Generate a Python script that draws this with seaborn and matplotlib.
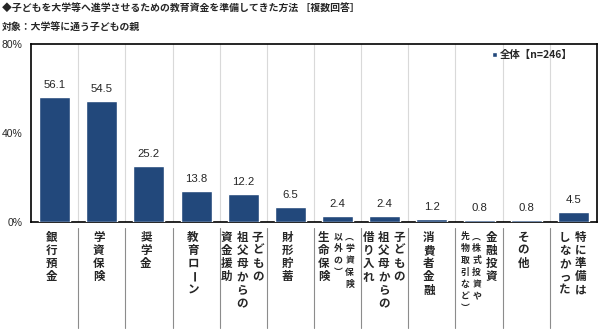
import matplotlib
matplotlib.use("Agg")
import matplotlib.pyplot as plt
import matplotlib.transforms as mtransforms
import seaborn as sns
import pandas as pd

# ---- data ----
categories = [
    "銀行預金", "学資保険", "奨学金", "教育ローン",
    "子どもの|祖父母からの|資金援助", "財形貯蓄",
    "（学資保険|以外の）|生命保険", "子どもの|祖父母からの|借り入れ",
    "消費者金融", "金融投資|（株式投資や|先物取引など）",
    "その他", "特に準備は|しなかった",
]
values = [56.1, 54.5, 25.2, 13.8, 12.2, 6.5, 2.4, 2.4, 1.2, 0.8, 0.8, 4.5]
series_name = "全体【n=246】"
y_ticks = [0, 40, 80]
y_tick_labels = ["0%", "40%", "80%"]
title = "◆子どもを大学等へ進学させるための教育資金を準備してきた方法 ［複数回答］"
subtitle = "対象：大学等に通う子どもの親"

bar_color = "#22487B"

sns.set_theme(style="white")
plt.rcParams['font.family'] = ['Noto Sans CJK JP', 'DejaVu Sans']

W, H = 600, 330
fig = plt.figure(figsize=(W / 100, H / 100), dpi=100)
L, R, T, B = 31, 597, 44, 221.5
ax = fig.add_axes([L / W, 1 - B / H, (R - L) / W, (B - T) / H])

df = pd.DataFrame({
    "cat": [c.replace("|", "") for c in categories],
    "val": values,
    "series": series_name,
})
sns.barplot(data=df, x="cat", y="val", hue="series", palette=[bar_color],
            width=0.66, ax=ax, legend=True, saturation=1, zorder=3)

ax.set_xlim(-0.5, len(categories) - 0.5)
ax.set_ylim(0, 80)
ax.set_yticks(y_ticks)
ax.set_yticklabels(y_tick_labels, fontsize=7.5, family=['Liberation Sans', 'DejaVu Sans'])
ax.set_xticks(range(len(categories)))
ax.set_xticklabels([""] * len(categories))
ax.tick_params(axis='both', length=0, pad=6)
ax.set_xlabel("")
ax.set_ylabel("")
for s in ax.spines.values():
    s.set_visible(True)
    s.set_color("black")
    s.set_linewidth(1.2)

# vertical grid lines at category boundaries
for k in range(1, len(categories)):
    ax.axvline(k - 0.5, color="#d9d9d9", lw=0.8, zorder=1)

# value labels
ax.bar_label(ax.containers[0], fmt="%.1f", padding=5, fontsize=8.2,
             family=['Liberation Sans', 'DejaVu Sans'])

# legend
leg = ax.legend(loc="upper left", bbox_to_anchor=(0.815, 0.965), frameon=False,
                fontsize=7.5, handlelength=0.45, handleheight=0.45,
                handletextpad=0.25, borderpad=0, borderaxespad=0)
for t in leg.get_texts():
    t.set_fontweight("bold")

# separators below axis
blend = mtransforms.blended_transform_factory(ax.transData, ax.transAxes)
ax_h = B - T
for k in range(1, len(categories)):
    ax.plot([k - 0.5, k - 0.5], [-(228 - B) / ax_h, -(328 - B) / ax_h],
            transform=blend, color="#8c8c8c", lw=0.8, clip_on=False)

# vertical category labels (vertical writing forms for brackets)
reg_size, small_size = 8.3, 6.4
reg_step, small_step = 13.3, 12.0
vert_forms = {"（": "︵", "）": "︶"}
rot_chars = {"ー": -90}


def draw_vertical(xpos, label):
    cols = label.split("|")
    flags = []
    inside = False
    for c in cols:
        if "（" in c:
            inside = True
        flags.append(inside)
        if "）" in c:
            inside = False
    offs = [0.0]
    for i in range(1, len(cols)):
        a, b = flags[i - 1], flags[i]
        if not a and not b:
            gap = 15.5
        elif a and b:
            gap = 11.7
        else:
            gap = 14.5
        offs.append(offs[-1] - gap)
    mid = (max(offs) + min(offs)) / 2
    shift = -3 if len(cols) == 1 else -1
    offs = [o - mid + shift for o in offs]
    for c, small, dx in zip(cols, flags, offs):
        size = small_size if small else reg_size
        step = small_step if small else reg_step
        y0 = 15.0 if small else 15.5
        for i, ch in enumerate(c):
            dy = y0 + i * step
            tr = blend + mtransforms.ScaledTranslation(dx / 100, -dy / 100, fig.dpi_scale_trans)
            ax.text(xpos, 0, vert_forms.get(ch, ch), transform=tr, ha="center", va="center",
                    fontsize=size, fontweight="bold", rotation=rot_chars.get(ch, 0),
                    clip_on=False)


for i, lab in enumerate(categories):
    draw_vertical(i, lab)

# titles
fig.text(2 / W, 1 - 9 / H, title, fontsize=7.1, fontweight="bold", ha="left", va="center")
fig.text(2 / W, 1 - 27 / H, subtitle, fontsize=7.1, fontweight="bold", ha="left", va="center")

fig.savefig("out.png", dpi=100)
